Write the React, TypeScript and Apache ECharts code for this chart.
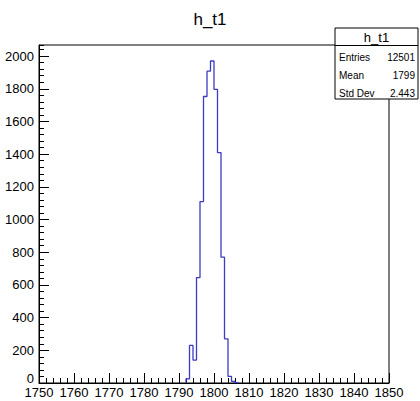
import React, { useEffect, useRef } from "react";
import * as echarts from "echarts";

const histTitle = "h_t1";
const xMin = 1750;
const xMax = 1850;
const binLow = 1792;
const binWidth = 1;
const counts = [25, 230, 140, 645, 1110, 1753, 1908, 1970, 1797, 1410, 770, 270, 40, 10, 2];
const yMax = 2068;
const statLabels = ["Entries", "Mean", "Std Dev"];
const statValues = ["12501", "1799", "2.443"];

const FONT = "'Liberation Sans', Arial, Helvetica, sans-serif";

export default function App() {
  const ref = useRef<HTMLDivElement>(null);
  useEffect(() => {
    const chart = echarts.init(ref.current!, null, { renderer: "svg" });
    const pts: number[][] = [];
    counts.forEach((c, i) => {
      const lo = binLow + i * binWidth;
      if (i === 0) pts.push([lo, 0]);
      pts.push([lo, c], [lo + binWidth, c]);
    });
    pts.push([binLow + counts.length * binWidth, 0]);

    const bx = 335, by = 28, bw = 83, bh = 71;
    const statsGraphics: any[] = [
      { type: "rect", shape: { x: bx, y: by, width: bw, height: bh }, style: { fill: "#fff", stroke: "#000", lineWidth: 1 }, z: 100 },
      { type: "line", shape: { x1: bx, y1: 45.5, x2: bx + bw, y2: 45.5 }, style: { stroke: "#000", lineWidth: 1 }, z: 101 },
      { type: "text", x: bx + bw / 2, y: 37.5, style: { text: histTitle, font: `13px ${FONT}`, fill: "#000", textAlign: "center", textVerticalAlign: "middle" }, z: 101 },
    ];
    statLabels.forEach((l, i) => {
      const y = 57 + i * 18.2;
      statsGraphics.push({ type: "text", x: bx + 4, y, style: { text: l, font: `10px ${FONT}`, fill: "#000", textAlign: "left", textVerticalAlign: "middle" }, z: 101 });
      statsGraphics.push({ type: "text", x: bx + bw - 3, y, style: { text: statValues[i], font: `10px ${FONT}`, fill: "#000", textAlign: "right", textVerticalAlign: "middle" }, z: 101 });
    });

    chart.setOption({
      animation: false,
      backgroundColor: "#fff",
      title: {
        text: histTitle,
        left: "center",
        top: 6,
        textStyle: { fontFamily: FONT, fontSize: 17, fontWeight: "normal", color: "#000" },
      },
      grid: {
        left: 39, right: 31, top: 45, bottom: 18,
        show: true, borderColor: "#000", borderWidth: 1, backgroundColor: "transparent",
      },
      xAxis: {
        type: "value", min: xMin, max: xMax, interval: 10,
        axisLine: { show: true, lineStyle: { color: "#000", width: 1 } },
        axisTick: { show: true, inside: true, length: 10, lineStyle: { color: "#000" } },
        minorTick: { show: true, splitNumber: 5, length: 5, lineStyle: { color: "#000" } },
        splitLine: { show: false },
        minorSplitLine: { show: false },
        axisLabel: { fontFamily: FONT, fontSize: 13, color: "#000", margin: 3, formatter: (v: number) => String(v) },
      },
      yAxis: [
        {
          type: "value", min: 0, max: yMax, interval: 200,
          axisLine: { show: true, lineStyle: { color: "#000", width: 1 } },
          axisTick: { show: true, inside: true, length: 10, lineStyle: { color: "#000" } },
          splitLine: { show: false },
          axisLabel: {
            fontFamily: FONT, fontSize: 13, color: "#000", margin: 5, showMaxLabel: false,
            formatter: (v: number) => (v === 0 ? "{z|0}" : String(v)),
            rich: { z: { fontFamily: FONT, fontSize: 13, color: "#000", padding: [0, 0, 10, 0] } },
          },
        },
        {
          type: "value", min: 0, max: yMax, interval: 40, position: "left",
          axisLine: { show: false },
          axisTick: { show: true, inside: true, length: 5, lineStyle: { color: "#000" } },
          splitLine: { show: false },
          axisLabel: { show: false },
        },
      ],
      series: [
        {
          type: "line",
          data: pts,
          xAxisIndex: 0,
          yAxisIndex: 0,
          showSymbol: false,
          symbol: "none",
          lineStyle: { color: "#3b3bc4", width: 1.3 },
          z: 5,
        },
      ],
      graphic: statsGraphics,
    });
    return () => chart.dispose();
  }, []);
  return <div ref={ref} style={{ position: "fixed", left: 0, top: 0, width: 420, height: 401 }} />;
}
